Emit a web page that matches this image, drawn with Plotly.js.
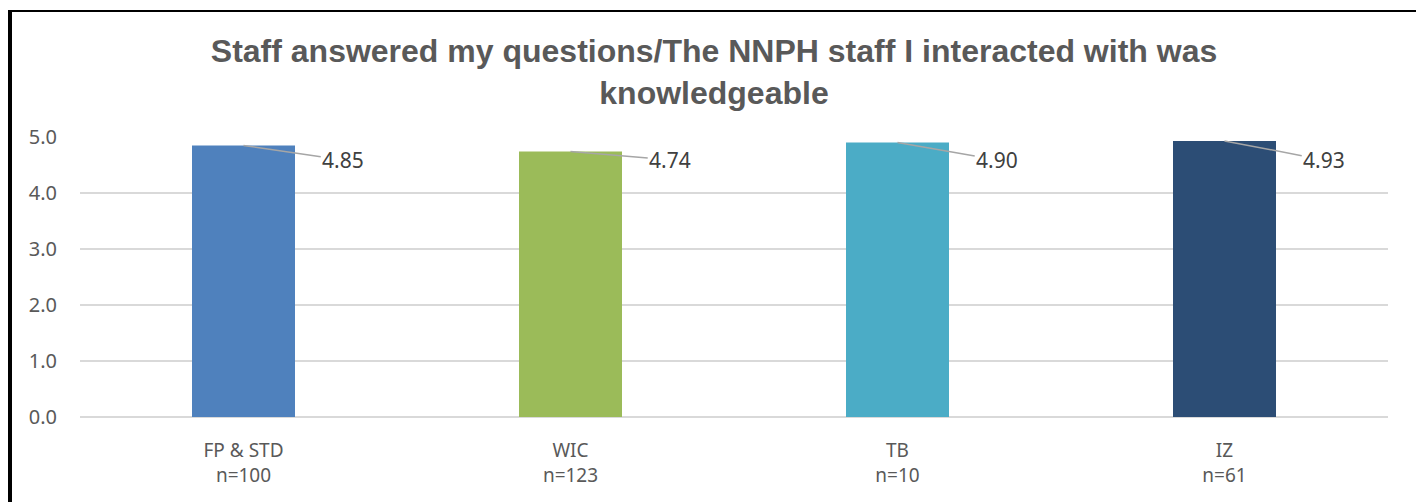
<!DOCTYPE html>
<html><head><meta charset="utf-8">
<script src="https://cdn.plot.ly/plotly-3.0.1.min.js"></script>
<style>
html,body{margin:0;padding:0;background:#fff;width:1416px;height:502px;overflow:hidden;}
#chart{position:absolute;left:8px;top:10px;width:1404px;height:490px;border-left:4px solid #000;border-top:2px solid #000;}
</style></head>
<body><div id="chart"></div>
<script>
const categories = ["FP & STD", "WIC", "TB", "IZ"];
const sampleSizes = ["n=100", "n=123", "n=10", "n=61"];
const values = [4.85, 4.74, 4.90, 4.93];
const colors = ["#4F81BD", "#9BBB59", "#4BACC6", "#2C4D75"];
const titleText = "Staff answered my questions/The NNPH staff I interacted with was<br>knowledgeable";

const tickLabels = categories.map((c, i) => c + "<br>" + sampleSizes[i]);
const xs = categories.map((c, i) => i);

const fam = "Noto Sans, Liberation Sans, sans-serif";

const annotations = values.map((v, i) => ({
  x: i, y: v, xref: "x", yref: "y",
  ax: i + 0.305, ay: 4.59, axref: "x", ayref: "y",
  text: v.toFixed(2), showarrow: true, arrowhead: 0, arrowwidth: 1.5,
  arrowcolor: "#A6A6A6", standoff: 0,
  font: {family: fam, color: "#404040", size: 21},
  xanchor: "center", yanchor: "middle"
}));

const trace = {
  type: "bar", x: xs, y: values,
  marker: {color: colors}, hoverinfo: "none"
};

const layout = {
  width: 1404, height: 490,
  margin: {l: 68, r: 28, t: 125, b: 85},
  paper_bgcolor: "#fff", plot_bgcolor: "#fff",
  bargap: 0.685,
  showlegend: false,
  title: {
    text: titleText, x: 0.5, xref: "container", xanchor: "center",
    y: 1 - 50/490, yref: "container", yanchor: "middle",
    font: {family: "Liberation Sans, Arial, sans-serif", size: 32, color: "#595959", weight: "bold"}
  },
  xaxis: {
    tickmode: "array", tickvals: xs, ticktext: tickLabels,
    range: [-0.5, 3.5], showgrid: false, zeroline: false, showline: false,
    ticks: "outside", ticklen: 16, tickcolor: "rgba(0,0,0,0)",
    tickfont: {family: fam, color: "#595959", size: 19}
  },
  yaxis: {
    range: [0, 5], dtick: 1, tickformat: ".1f",
    showgrid: true, gridcolor: "#D9D9D9", gridwidth: 1.5,
    zeroline: true, zerolinecolor: "#D9D9D9", zerolinewidth: 1.5,
    ticks: "outside", ticklen: 18, tickcolor: "rgba(0,0,0,0)",
    tickfont: {family: fam, color: "#595959", size: 20}
  },
  annotations: annotations
};

Plotly.newPlot("chart", [trace], layout, {displayModeBar: false, staticPlot: true});
</script></body></html>
